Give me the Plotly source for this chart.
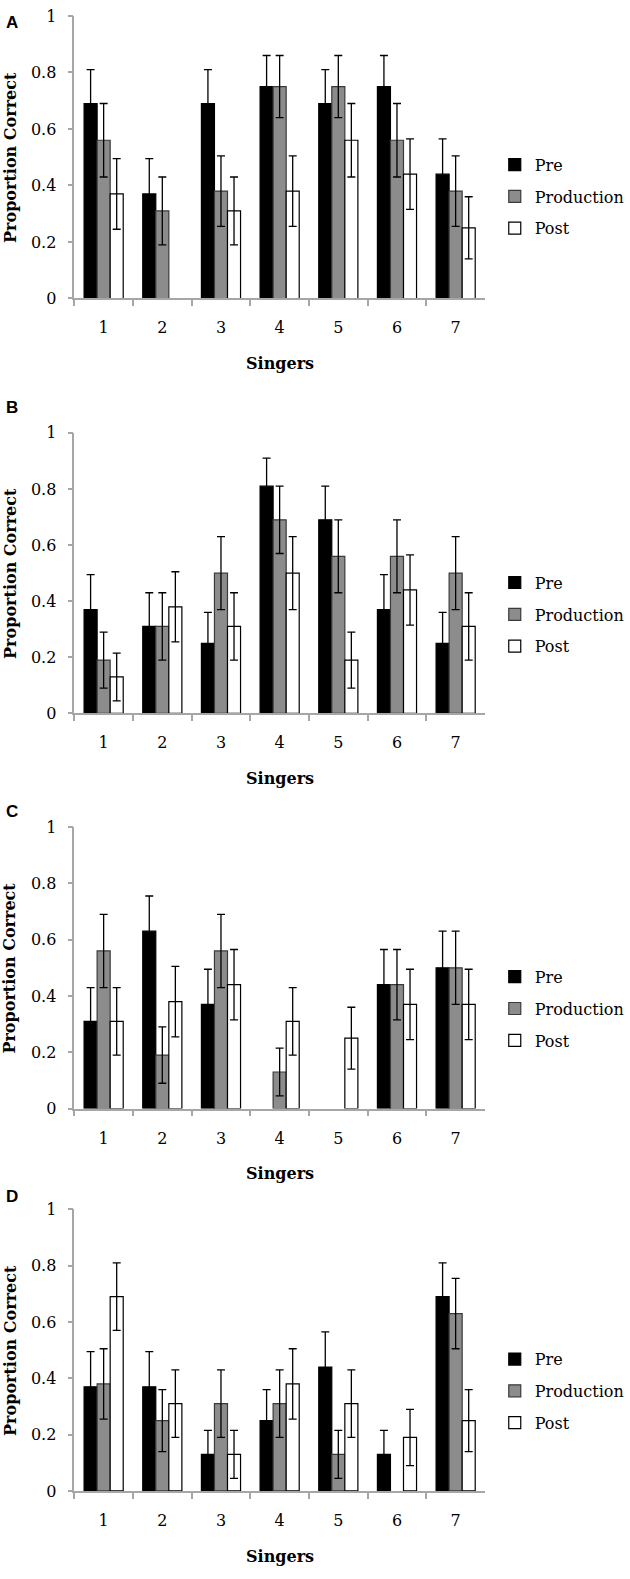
import plotly.graph_objects as go

singers = ["1", "2", "3", "4", "5", "6", "7"]
series_names = ["Pre", "Production", "Post"]

# panel A
a_pre = [0.69, 0.37, 0.69, 0.75, 0.69, 0.75, 0.44]
a_pre_err = [0.12, 0.125, 0.12, 0.11, 0.12, 0.11, 0.125]
a_prod = [0.56, 0.31, 0.38, 0.75, 0.75, 0.56, 0.38]
a_prod_err = [0.13, 0.12, 0.125, 0.11, 0.11, 0.13, 0.125]
a_post = [0.37, None, 0.31, 0.38, 0.56, 0.44, 0.25]
a_post_err = [0.125, None, 0.12, 0.125, 0.13, 0.125, 0.11]

# panel B
b_pre = [0.37, 0.31, 0.25, 0.81, 0.69, 0.37, 0.25]
b_pre_err = [0.125, 0.12, 0.11, 0.10, 0.12, 0.125, 0.11]
b_prod = [0.19, 0.31, 0.50, 0.69, 0.56, 0.56, 0.50]
b_prod_err = [0.10, 0.12, 0.13, 0.12, 0.13, 0.13, 0.13]
b_post = [0.13, 0.38, 0.31, 0.50, 0.19, 0.44, 0.31]
b_post_err = [0.085, 0.125, 0.12, 0.13, 0.10, 0.125, 0.12]

# panel C
c_pre = [0.31, 0.63, 0.37, None, None, 0.44, 0.50]
c_pre_err = [0.12, 0.125, 0.125, None, None, 0.125, 0.13]
c_prod = [0.56, 0.19, 0.56, 0.13, None, 0.44, 0.50]
c_prod_err = [0.13, 0.10, 0.13, 0.085, None, 0.125, 0.13]
c_post = [0.31, 0.38, 0.44, 0.31, 0.25, 0.37, 0.37]
c_post_err = [0.12, 0.125, 0.125, 0.12, 0.11, 0.125, 0.125]

# panel D
d_pre = [0.37, 0.37, 0.13, 0.25, 0.44, 0.13, 0.69]
d_pre_err = [0.125, 0.125, 0.085, 0.11, 0.125, 0.085, 0.12]
d_prod = [0.38, 0.25, 0.31, 0.31, 0.13, None, 0.63]
d_prod_err = [0.125, 0.11, 0.12, 0.12, 0.085, None, 0.125]
d_post = [0.69, 0.31, 0.13, 0.38, 0.31, 0.19, 0.25]
d_post_err = [0.12, 0.12, 0.085, 0.125, 0.12, 0.10, 0.11]

panels = [
    ("A", [a_pre, a_prod, a_post], [a_pre_err, a_prod_err, a_post_err]),
    ("B", [b_pre, b_prod, b_post], [b_pre_err, b_prod_err, b_post_err]),
    ("C", [c_pre, c_prod, c_post], [c_pre_err, c_prod_err, c_post_err]),
    ("D", [d_pre, d_prod, d_post], [d_pre_err, d_prod_err, d_post_err]),
]

W, H = 630, 1579
fills = ["#000000", "#8c8c8c", "#ffffff"]
edges = ["#000000", "#3a3a3a", "#000000"]
axis_grey = "#a6a6a6"
serif = "DejaVu Serif"

# pixel rows of each panel: top of plot (value 1), bottom (value 0), legend middle, letter y
tops = [7, 429, 828, 1215]
bottoms = [293, 713, 1113, 1500]
legend_mid = [190, 613, 1012, 1399]
letter_y = [14, 403, 812, 1202]

fig = go.Figure()
layout = dict(
    width=W, height=H,
    margin=dict(l=0, r=0, t=0, b=0),
    paper_bgcolor="white", plot_bgcolor="white",
    barmode="group", bargap=0.333, bargroupgap=0,
    annotations=[],
)

x0, x1 = 76 / W, 496 / W

for i, (letter, values, errors) in enumerate(panels):
    n = i + 1
    suffix = "" if n == 1 else str(n)
    leg = "legend" + suffix
    for j in range(3):
        fig.add_trace(go.Bar(
            x=singers, y=values[j], name=series_names[j],
            marker=dict(color=fills[j], line=dict(color=edges[j], width=1.2)),
            error_y=dict(type="data", array=errors[j], visible=True,
                         color="black", thickness=1.3, width=4),
            xaxis="x" + suffix, yaxis="y" + suffix,
            legend=leg, legendgroup=f"{letter}{j}",
        ))
    yd = [1 - bottoms[i] / H, 1 - tops[i] / H]
    layout["xaxis" + suffix] = dict(
        domain=[x0, x1], anchor="y" + suffix, type="category",
        showline=True, linecolor=axis_grey, linewidth=1.5,
        ticks="outside", tickson="boundaries", ticklen=6,
        tickcolor=axis_grey, tickwidth=1.5,
        tickfont=dict(family=serif, size=16, color="black"),
        ticklabelstandoff=14, showgrid=False, zeroline=False,
    )
    layout["yaxis" + suffix] = dict(
        domain=yd, anchor="x" + suffix, range=[0, 1], dtick=0.2,
        showline=True, linecolor=axis_grey, linewidth=1.5,
        ticks="outside", ticklen=5, tickcolor=axis_grey, tickwidth=1.5,
        tickfont=dict(family=serif, size=16, color="black"),
        ticklabelstandoff=8, showgrid=False, zeroline=False,
    )
    layout[leg] = dict(
        x=506 / W, xanchor="left", y=1 - legend_mid[i] / H, yanchor="middle",
        font=dict(family=serif, size=16, color="black"),
        tracegroupgap=8, bgcolor="rgba(0,0,0,0)",
    )
    mid = (tops[i] + bottoms[i]) / 2
    layout["annotations"] += [
        dict(text="<b>Proportion Correct</b>", textangle=-90,
             x=10 / W, y=1 - mid / H, xref="paper", yref="paper",
             xanchor="center", yanchor="middle", showarrow=False,
             font=dict(family=serif, size=16, color="black")),
        dict(text="<b>Singers</b>", x=286 / W, y=1 - (bottoms[i] + 66) / H,
             xref="paper", yref="paper", xanchor="center", yanchor="middle",
             showarrow=False, font=dict(family=serif, size=16, color="black")),
        dict(text="<b>" + letter + "</b>", x=12 / W, y=1 - letter_y[i] / H,
             xref="paper", yref="paper", xanchor="center", yanchor="middle",
             showarrow=False,
             font=dict(family="Liberation Sans", size=17, color="black")),
    ]

fig.update_layout(**layout)
fig.write_html("out.html", config={"displayModeBar": False},
               post_script="document.body.style.margin = '0';")
